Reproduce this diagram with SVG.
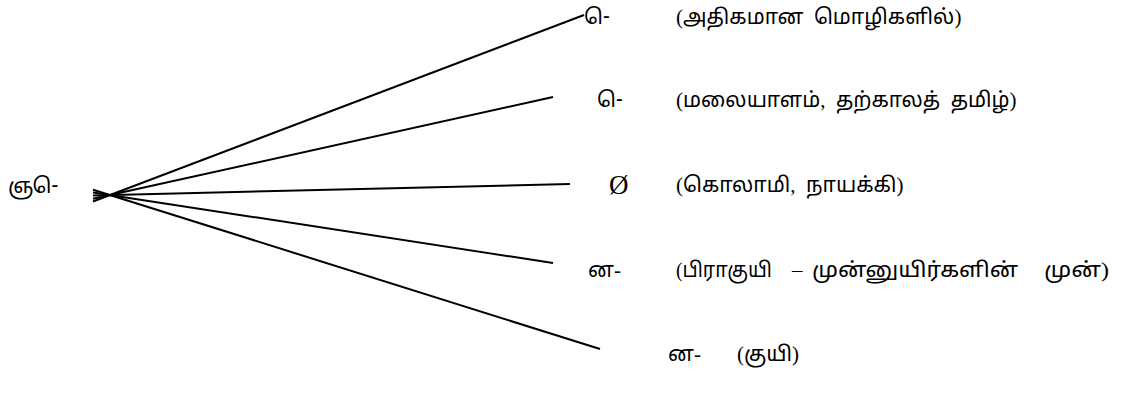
<svg xmlns="http://www.w3.org/2000/svg" width="1133" height="394" viewBox="0 0 1133 394">
<style>
text{font-family:"Liberation Serif","Noto Sans Tamil","Noto Serif Tamil","Lohit Tamil","Latha",serif;font-size:21px;fill:#000;white-space:pre}
.ln{stroke:#000;stroke-width:2;fill:none}
.null{font-size:27px}
</style>
<rect width="1133" height="394" fill="#fff"/>
<g id="connectors">
<line class="ln" x1="93" y1="201.5" x2="584" y2="15"/>
<line class="ln" x1="93" y1="198.8" x2="553" y2="97"/>
<line class="ln" x1="93" y1="195.4" x2="570" y2="184"/>
<line class="ln" x1="93" y1="192.4" x2="553" y2="263"/>
<line class="ln" x1="93" y1="189.7" x2="600" y2="349"/>
</g>
<g id="root"><text x="8" y="193">ஞ&#x2010;ெ</text></g>
<g id="n1"><text x="584" y="24">&#x2010;ெ</text><text x="676" y="24">(அதிகமான  மொழிகளில்)</text></g>
<g id="n2"><text x="597" y="107">&#x2010;ெ</text><text x="676" y="107">(மலையாளம்,  தற்காலத்  தமிழ்)</text></g>
<g id="n3"><text class="null" x="609" y="194">Ø</text><text x="676" y="192">(கொலாமி,  நாயக்கி)</text></g>
<g id="n4"><text x="588" y="277">ன-</text><text x="676" y="277" textLength="96" lengthAdjust="spacingAndGlyphs">(பிராகுயி</text><text x="792" y="277">–</text><text x="812" y="277" textLength="206" lengthAdjust="spacingAndGlyphs">முன்னுயிர்களின்</text><text x="1044" y="277" textLength="65" lengthAdjust="spacingAndGlyphs">முன்)</text></g>
<g id="n5"><text x="668" y="361">ன-</text><text x="737" y="361">(குயி)</text></g>
</svg>
